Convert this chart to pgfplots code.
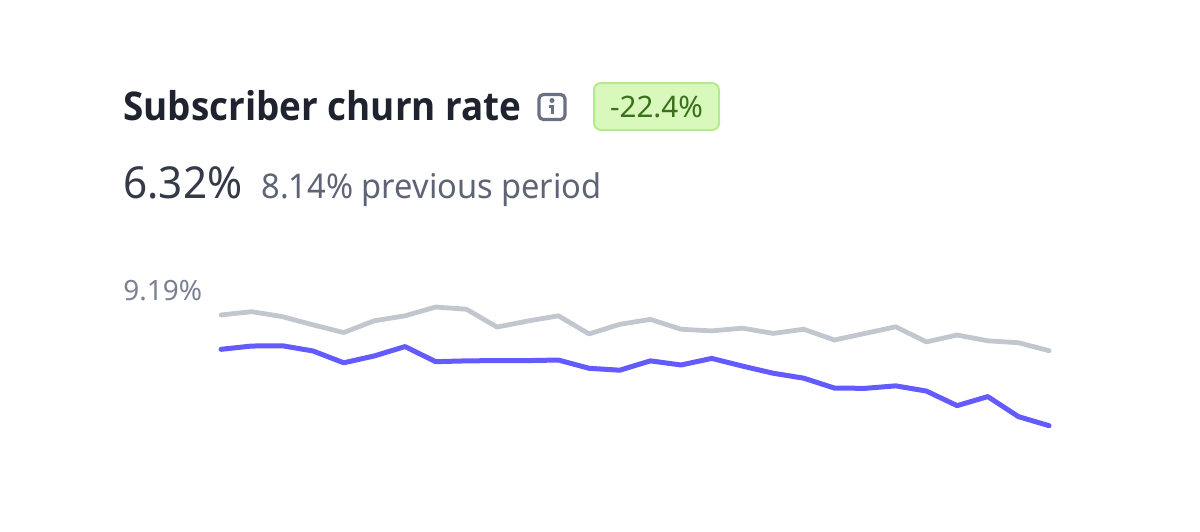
\documentclass[border=0pt]{standalone}
\usepackage{pgfplots}
\pgfplotsset{compat=1.18}
\usepackage{fontspec}
\setmainfont{Noto Sans}
\newfontfamily\titlefont[FakeStretch=0.93]{Open Sans}
\newfontfamily\narrowfont[FakeStretch=0.96]{Noto Sans}
\definecolor{titlec}{HTML}{1F2330}
\definecolor{bigc}{HTML}{353A48}
\definecolor{subc}{HTML}{5E6475}
\definecolor{labc}{HTML}{7B8092}
\definecolor{grayl}{HTML}{C1C6CF}
\definecolor{bluel}{HTML}{635BFF}
\definecolor{badgef}{HTML}{D9F8BC}
\definecolor{badged}{HTML}{B4EC8C}
\definecolor{badget}{HTML}{3B701C}
\definecolor{iconc}{HTML}{6A7085}
\begin{document}
\begin{tikzpicture}[x=0.5pt,y=-0.5pt]
\path[use as bounding box] (0,0) rectangle (1200,531);
\begin{axis}[at={(0pt,-265.5pt)},anchor=south west,scale only axis,width=600pt,height=265.5pt,hide axis,
  xmin=-7.206,xmax=31.92,ymin=0.637,ymax=19.965,clip=false]
\addplot[grayl,line width=2.4pt,line join=round,line cap=round] coordinates {
(0,8.50)(1,8.62)(2,8.44)(3,8.14)(4,7.86)(5,8.29)(6,8.47)(7,8.79)(8,8.71)(9,8.06)(10,8.28)(11,8.47)(12,7.81)(13,8.16)
(14,8.34)(15,7.98)(16,7.92)(17,8.02)(18,7.83)(19,7.98)(20,7.59)(21,7.83)(22,8.07)(23,7.52)(24,7.77)(25,7.56)(26,7.49)(27,7.20)};
\addplot[bluel,line width=2.5pt,line join=round,line cap=round] coordinates {
(0,7.25)(1,7.37)(2,7.38)(3,7.19)(4,6.76)(5,7.01)(6,7.35)(7,6.80)(8,6.83)(9,6.84)(10,6.84)(11,6.86)(12,6.56)(13,6.49)
(14,6.83)(15,6.68)(16,6.92)(17,6.64)(18,6.38)(19,6.20)(20,5.84)(21,5.83)(22,5.92)(23,5.73)(24,5.20)(25,5.53)(26,4.80)(27,4.47)};
\end{axis}
\node[anchor=base west,inner sep=0pt,text=titlec,font=\titlefont\fontsize{19.8pt}{21pt}\selectfont\bfseries] at (123,120) {Subscriber churn rate};
\draw[iconc,line width=1.6pt,rounded corners=2.2pt] (539,94.5) rectangle (565,119.5);
\fill[iconc] (552,100.5) circle (1.25pt);
\draw[iconc,line width=1.7pt] (549,106.5) -- (552.5,106.5) -- (552.5,113.5);
\draw[badged,fill=badgef,line width=1pt,rounded corners=3.5pt] (594,83) rectangle (719,130);
\node[anchor=base,inner sep=0pt,text=badget,font=\fontsize{14.8pt}{16pt}\selectfont] at (656.5,117) {-22.4\%};
\node[anchor=base west,inner sep=0pt,text=bigc,font=\narrowfont\fontsize{22pt}{24pt}\selectfont] at (123,198) {6.32\%};
\node[anchor=base west,inner sep=0pt,text=subc,font=\narrowfont\fontsize{17pt}{19pt}\selectfont] at (261,198) {8.14\% previous period};
\node[anchor=base west,inner sep=0pt,text=labc,font=\fontsize{14pt}{16pt}\selectfont] at (123,300) {9.19\%};
\end{tikzpicture}
\end{document}
